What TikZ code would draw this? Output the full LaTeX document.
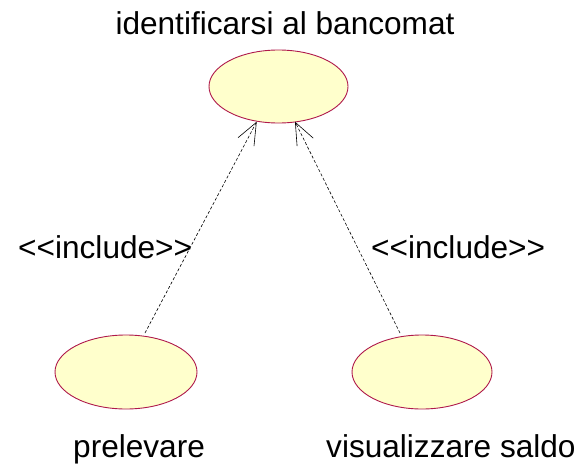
\documentclass[tikz,border=0pt]{standalone}
\usepackage{fontspec}
\setmainfont{Liberation Sans}[Ligatures=TeXOff]
\usetikzlibrary{shapes.geometric,arrows.meta}
\definecolor{ucborder}{RGB}{175,25,75}
\definecolor{ucfill}{RGB}{255,255,204}
\tikzset{
  usecase/.style={ellipse, draw=ucborder, fill=ucfill, line width=0.9pt, inner sep=0pt},
  lbl/.style={font=\fontsize{31.6}{36}\selectfont, inner sep=0pt},
  incl/.style={dash pattern=on 3pt off 2pt, line width=0.6pt,
    -{Straight Barb[length=22pt,width=18pt,line width=0.6pt]}}
}
\begin{document}
\begin{tikzpicture}[x=1pt,y=-1pt]
\useasboundingbox (0,0) rectangle (581,466);
\node[usecase, minimum width=139pt, minimum height=73pt] (top) at (278.5,86.5) {};
\node[usecase, minimum width=142pt, minimum height=74pt] (left) at (126,372) {};
\node[usecase, minimum width=140pt, minimum height=74pt] (right) at (422,372) {};
\coordinate (tl) at (256.7,121.7);
\coordinate (tr) at (295,121.7);
\coordinate (bl) at (145,333);
\coordinate (br) at (400,333);
\draw[incl] (bl) -- (tl);
\draw[incl] (br) -- (tr);
\node[lbl, anchor=base] (t1) at (285,34) {identificarsi al bancomat};
\node[lbl, anchor=base west] (i1) at (18,258) {<<include>>};
\node[lbl, anchor=base west] (i2) at (371,258) {<<include>>};
\node[lbl, anchor=base west] (p1) at (73,457) {prelevare};
\node[lbl, anchor=base west] (p2) at (326,457) {visualizzare saldo};
\end{tikzpicture}
\end{document}
